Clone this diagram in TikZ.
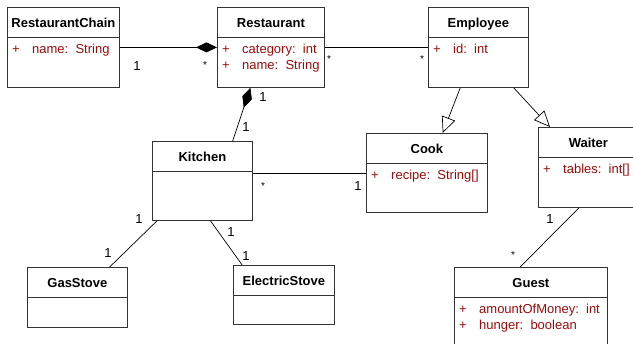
\documentclass[tikz,border=0pt]{standalone}
\usepackage{fontspec}
\setmainfont{Liberation Sans}
\usetikzlibrary{arrows.meta,calc}
\definecolor{attrred}{RGB}{150,12,12}
\newcommand{\diagfont}{\fontsize{13}{16}\selectfont}
\newcommand{\attr}[1]{\makebox[20pt][l]{+}#1}
\newcommand{\umlclass}[7]{%
  \node[umlbox, minimum width=#4pt, minimum height=#5pt] (#1) at (#2,#3) {};
  \node[umltitle] (#1-t) at ($(#1.north)+(0,16.5)$) {#6};
  \draw[line width=0.8pt, black!80] ($(#1.north west)+(0,30)$) -- ($(#1.north east)+(0,30)$);
  \node[umlattr] (#1-a) at ($(#1.north west)+(5,36.5)$) {#7};
}
\tikzset{
  umlbox/.style={draw=black!80, rectangle, anchor=north west, inner sep=0pt, line width=0.8pt},
  umltitle/.style={font=\diagfont\bfseries, inner sep=0pt, text height=9pt, text depth=0pt},
  umlattr/.style={anchor=north west, align=left, inner sep=0pt, text=attrred},
  mult/.style={inner sep=0pt},
  many/.style={inner sep=0pt, font=\fontsize{10}{12}\selectfont},
  assoc/.style={line width=0.7pt},
  compos/.style={assoc, -{Diamond[length=21pt,width=10pt]}},
  inherit/.style={assoc, -{Triangle[open,length=16pt,width=14pt]}},
}
\begin{document}
\begin{tikzpicture}[x=1pt, y=-1pt, every node/.style={font=\diagfont}]
  \useasboundingbox (0,0) rectangle (633,344);
  \clip (0,0) rectangle (633,344);
  \umlclass{chain}{7}{7}{112}{80}{RestaurantChain}{\attr{name:\ \ String}}
  \umlclass{rest}{217}{7}{107}{80}{Restaurant}{\attr{category:\ \ int}\\\attr{name:\ \ String}}
  \umlclass{emp}{428}{7}{100}{80}{Employee}{\attr{id:\ \ int}}
  \umlclass{kitchen}{152}{141}{100}{79}{Kitchen}{}
  \umlclass{cook}{366}{133}{121}{79}{Cook}{\attr{recipe:\ \ String[]}}
  \umlclass{waiter}{538}{127}{100}{80}{Waiter}{\attr{tables:\ \ int[]}}
  \umlclass{gas}{27}{267}{100}{60}{GasStove}{}
  \umlclass{elec}{233}{265}{101}{59}{ElectricStove}{}
  \umlclass{guest}{454}{267}{153}{80}{Guest}{\attr{amountOfMoney:\ \ int}\\\attr{hunger:\ \ boolean}}

  \draw[compos] (chain.east) -- (rest.west);
  \draw[assoc] (rest.east) -- (emp.west);
  \draw[compos] ($(kitchen.north west)!0.8!(kitchen.north east)$) -- ($(rest.south west)!0.31!(rest.south east)$);
  \draw[inherit] ($(emp.south west)!0.32!(emp.south east)$) -- ($(cook.north west)!0.63!(cook.north east)$);
  \draw[inherit] ($(emp.south west)!0.85!(emp.south east)$) -- ($(waiter.north west)+(12,0)$);
  \draw[assoc] (kitchen.east |- cook.west) -- (cook.west);
  \draw[assoc] ($(kitchen.south west)!0.05!(kitchen.south east)$) -- ($(gas.north west)!0.82!(gas.north east)$);
  \draw[assoc] ($(kitchen.south west)!0.58!(kitchen.south east)$) -- ($(elec.north west)!0.09!(elec.north east)$);
  \draw[assoc] ($(waiter.south west)+(41,0)$) -- ($(guest.north west)!0.43!(guest.north east)$);

  \node[mult] (m-chain) at (137,66) {1};
  \node[many] (m-rest1) at (205,65.5) {*};
  \node[many] (m-rest2) at (329,59.5) {*};
  \node[many] (m-emp) at (422,59.5) {*};
  \node[mult] (m-rest3) at (263,97) {1};
  \node[mult] (m-kit1) at (246,127) {1};
  \node[many] (m-kit2) at (263,186.5) {*};
  \node[mult] (m-cook) at (358,186) {1};
  \node[mult] (m-kit3) at (139,219) {1};
  \node[mult] (m-gas) at (108,253) {1};
  \node[mult] (m-kit4) at (231,232) {1};
  \node[mult] (m-elec) at (246,256) {1};
  \node[mult] (m-waiter) at (550,219) {1};
  \node[many] (m-guest) at (513,255.5) {*};
\end{tikzpicture}
\end{document}
